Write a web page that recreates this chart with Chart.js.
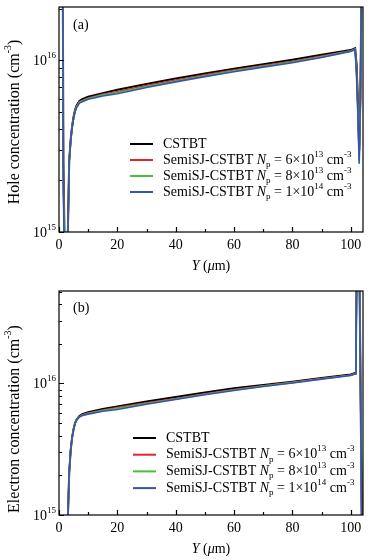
<!DOCTYPE html>
<html>
<head>
<meta charset="utf-8">
<script src="https://cdn.jsdelivr.net/npm/chart.js@4.4.1/dist/chart.umd.min.js"></script>
<style>
body { margin: 0; background: #fff; }
canvas { display: block; }
</style>
</head>
<body>
<canvas id="chartA" width="371" height="280"></canvas>
<canvas id="chartB" width="371" height="280"></canvas>
<script>
// positions along Y (um)
const posA = [0, 1.2, 1.5, 1.9, 2.3, 2.7, 2.9, 3.1, 3.5, 4, 4.5, 5, 5.5, 6, 7, 8, 10, 15, 20, 30, 40, 50, 60, 70, 80, 90, 100, 101.5, 102, 102.5, 102.9, 103.3, 103.7, 104.2];
const holeCstbt = [3e17, 1e17, 2.5e15, 9e14, 4e14, 4e14, 7e14, 1.15e15, 2.6e15, 3.45e15, 4.15e15, 4.7e15, 5.15e15, 5.45e15, 5.8e15, 5.95e15, 6.15e15, 6.45e15, 6.75e15, 7.3e15, 7.85e15, 8.4e15, 8.95e15, 9.5e15, 1.01e16, 1.08e16, 1.15e16, 1.18e16, 9.5e15, 5.5e15, 3e15, 6e15, 3e16, 1e17];
const holeNp6 = [3e17, 1e17, 2.2e15, 8e14, 4e14, 4e14, 7e14, 1.12e15, 2.6e15, 3.4e15, 4.1e15, 4.65e15, 5.1e15, 5.4e15, 5.75e15, 5.85e15, 6.05e15, 6.35e15, 6.6e15, 7.15e15, 7.7e15, 8.25e15, 8.8e15, 9.35e15, 9.9e15, 1.06e16, 1.14e16, 1.17e16, 9e15, 5e15, 2.8e15, 6e15, 3e16, 1e17];
const holeNp8 = [3e17, 1e17, 2e15, 7e14, 4e14, 4e14, 7e14, 1.1e15, 2.6e15, 3.4e15, 4.1e15, 4.6e15, 5.05e15, 5.35e15, 5.7e15, 5.8e15, 6.0e15, 6.28e15, 6.5e15, 7.05e15, 7.6e15, 8.15e15, 8.7e15, 9.25e15, 9.8e15, 1.05e16, 1.135e16, 1.165e16, 8.5e15, 4.8e15, 2.6e15, 6e15, 3e16, 1e17];
const holeNp1e14 = [3e17, 1e17, 1.7e15, 6e14, 4e14, 4e14, 7e14, 1.1e15, 2.6e15, 3.4e15, 4.05e15, 4.6e15, 5.0e15, 5.3e15, 5.65e15, 5.75e15, 5.95e15, 6.2e15, 6.4e15, 6.95e15, 7.5e15, 8.05e15, 8.6e15, 9.15e15, 9.7e15, 1.04e16, 1.13e16, 1.16e16, 8e15, 4.5e15, 2.5e15, 6e15, 3e16, 1e17];

const posB = [0, 2.5, 2.9, 3.1, 3.5, 4, 4.5, 5, 5.5, 6, 7, 8, 10, 15, 20, 30, 40, 50, 60, 70, 80, 90, 100, 101.5, 101.8, 102.1, 102.9, 103.8, 104.2];
const elecCstbt = [1e12, 1e13, 5e14, 1.05e15, 2.1e15, 3.1e15, 3.9e15, 4.5e15, 5.0e15, 5.3e15, 5.65e15, 5.85e15, 6.05e15, 6.4e15, 6.7e15, 7.3e15, 7.9e15, 8.55e15, 9.2e15, 9.75e15, 1.03e16, 1.1e16, 1.17e16, 1.2e16, 2e16, 1e17, 1.2e17, 8e14, 1e14];
const elecNp6 = [1e12, 1e13, 5e14, 1.05e15, 2.1e15, 3.1e15, 3.9e15, 4.5e15, 5.0e15, 5.3e15, 5.6e15, 5.78e15, 5.95e15, 6.28e15, 6.55e15, 7.12e15, 7.7e15, 8.35e15, 9.0e15, 9.6e15, 1.02e16, 1.09e16, 1.16e16, 1.19e16, 2e16, 1e17, 1.2e17, 8e14, 1e14];
const elecNp8 = [1e12, 1e13, 5e14, 1.05e15, 2.1e15, 3.1e15, 3.9e15, 4.5e15, 5.0e15, 5.3e15, 5.58e15, 5.74e15, 5.9e15, 6.22e15, 6.48e15, 7.05e15, 7.62e15, 8.28e15, 8.93e15, 9.55e15, 1.015e16, 1.085e16, 1.155e16, 1.185e16, 2e16, 1e17, 1.2e17, 8e14, 1e14];
const elecNp1e14 = [1e12, 1e13, 5e14, 1.05e15, 2.1e15, 3.1e15, 3.9e15, 4.5e15, 4.95e15, 5.25e15, 5.55e15, 5.7e15, 5.85e15, 6.15e15, 6.35e15, 6.95e15, 7.55e15, 8.2e15, 8.85e15, 9.5e15, 1.01e16, 1.08e16, 1.15e16, 1.18e16, 2e16, 1e17, 1.2e17, 8e14, 1e14];

const seriesColors = ['#000000', '#e3232c', '#4cbf3a', '#3553b3'];
const npMantissa = ['6', '8', '1'];
const npExponent = ['13', '13', '14'];
const xTicks = [0, 20, 40, 60, 80, 100];
const yTicks = [1e15, 1e16];

const FONT = '"Liberation Serif", "Times New Roman", serif';

function runFont(r, size) {
  const s = (r.sup || r.sub) ? Math.round(size * 0.64) : size;
  return (r.it ? 'italic ' : '') + s + 'px ' + FONT;
}
function runsWidth(ctx, runs, size) {
  let w = 0;
  runs.forEach(r => { ctx.font = runFont(r, size); w += ctx.measureText(r.t).width; });
  return w;
}
function drawRuns(ctx, runs, x, y, size, align) {
  if (align === 'center') x -= runsWidth(ctx, runs, size) / 2;
  if (align === 'right') x -= runsWidth(ctx, runs, size);
  ctx.textAlign = 'left';
  ctx.textBaseline = 'middle';
  runs.forEach(r => {
    ctx.font = runFont(r, size);
    const dy = r.sup ? -size * 0.4 : r.sub ? size * 0.32 : 0;
    ctx.fillText(r.t, x, y + dy);
    x += ctx.measureText(r.t).width;
  });
}

const decor = {
  id: 'decor',
  afterDraw(chart, args, o) {
    const { ctx, chartArea: a, scales: { x, y } } = chart;
    ctx.save();
    ctx.fillStyle = '#000';
    ctx.strokeStyle = '#000';
    ctx.lineWidth = 1.2;
    ctx.strokeRect(a.left, a.top, a.right - a.left, a.bottom - a.top);

    // inward ticks
    ctx.beginPath();
    for (let v = 0; v <= 100; v += 10) {
      const px = Math.round(x.getPixelForValue(v)) + 0.5;
      const len = v % 20 === 0 ? 5 : 3;
      ctx.moveTo(px, a.bottom);
      ctx.lineTo(px, a.bottom - len);
    }
    for (let d = 15; d <= 16; d++) {
      for (let m = 1; m <= 9; m++) {
        const v = m * Math.pow(10, d);
        if (v < y.min || v > y.max) continue;
        const py = Math.round(y.getPixelForValue(v)) + 0.5;
        ctx.moveTo(a.left, py);
        ctx.lineTo(a.left + (m === 1 ? 5 : 3), py);
      }
    }
    ctx.stroke();

    // tick labels
    yTicks.forEach(v => {
      const py = y.getPixelForValue(v);
      drawRuns(ctx, [{ t: '10' }, { t: String(Math.round(Math.log10(v))), sup: true }], a.left - 3, py + 1, 14, 'right');
    });
    xTicks.forEach(v => {
      drawRuns(ctx, [{ t: String(v) }], x.getPixelForValue(v), a.bottom + 13, 14, 'center');
    });

    // axis titles
    ctx.save();
    ctx.translate(15, o.yTitleY);
    ctx.rotate(-Math.PI / 2);
    drawRuns(ctx, [{ t: o.yTitle + ' (cm' }, { t: '-3', sup: true }, { t: ')' }], 0, 0, 16, 'center');
    ctx.restore();
    drawRuns(ctx, [{ t: 'Y', it: true }, { t: ' (' }, { t: 'μ', it: true }, { t: 'm)' }],
      (a.left + a.right) / 2, a.bottom + 34, 14, 'center');

    // panel label
    drawRuns(ctx, [{ t: o.label }], a.left + 14, a.top + o.labelDy, 14, 'left');

    // legend
    const L = o.legend;
    chart.data.datasets.forEach((ds, i) => {
      const ly = L.y + i * L.dy;
      ctx.strokeStyle = ds.borderColor;
      ctx.lineWidth = 2;
      ctx.beginPath();
      ctx.moveTo(L.x, ly);
      ctx.lineTo(L.x + 23, ly);
      ctx.stroke();
      let runs;
      if (i === 0) {
        runs = [{ t: ds.label }];
      } else {
        runs = [{ t: ds.label + ' ' }, { t: 'N', it: true }, { t: 'p', sub: true }, { t: ' = ' + npMantissa[i - 1] + '×10' },
          { t: npExponent[i - 1], sup: true }, { t: ' cm' }, { t: '-3', sup: true }];
      }
      drawRuns(ctx, runs, L.x + 33, ly, 14, 'left');
    });
    ctx.restore();
  }
};

function makeChart(id, pos, series, yMax, o) {
  const names = ['CSTBT', 'SemiSJ-CSTBT', 'SemiSJ-CSTBT', 'SemiSJ-CSTBT'];
  return new Chart(document.getElementById(id), {
    type: 'line',
    data: {
      datasets: series.map((vals, i) => ({
        label: names[i],
        data: pos.map((p, k) => ({ x: p, y: vals[k] })),
        borderColor: seriesColors[i],
        borderWidth: i === 0 ? 2 : 1.6,
        pointRadius: 0,
        tension: 0,
        clip: 0,
        order: 3 - i
      }))
    },
    options: {
      responsive: false,
      animation: false,
      events: [],
      layout: { padding: { left: 0, right: 8, top: o.top, bottom: 0 } },
      plugins: { legend: { display: false }, tooltip: { enabled: false }, decor: o },
      scales: {
        x: {
          type: 'linear', min: 0, max: 104.2,
          grid: { display: false, drawTicks: false },
          border: { display: false },
          afterBuildTicks: s => { s.ticks = xTicks.map(v => ({ value: v })); },
          afterFit: s => { s.height = o.xHeight; },
          ticks: { display: false }
        },
        y: {
          type: 'logarithmic', min: 1e15, max: yMax,
          grid: { display: false, drawTicks: false },
          border: { display: false },
          afterBuildTicks: s => { s.ticks = yTicks.map(v => ({ value: v })); },
          afterFit: s => { s.width = 59; },
          ticks: { display: false }
        }
      }
    },
    plugins: [decor]
  });
}

makeChart('chartA', posA, [holeCstbt, holeNp6, holeNp8, holeNp1e14], 2.05e16, {
  top: 7, xHeight: 48, yTitleY: 122, yTitle: 'Hole concentration', label: '(a)', labelDy: 18,
  legend: { x: 130, y: 144, dy: 16 }
});
makeChart('chartB', posB, [elecCstbt, elecNp6, elecNp8, elecNp1e14], 5.05e16, {
  top: 11, xHeight: 45, yTitleY: 139, yTitle: 'Electron concentration', label: '(b)', labelDy: 17,
  legend: { x: 133, y: 158, dy: 16.7 }
});
</script>
</body>
</html>
